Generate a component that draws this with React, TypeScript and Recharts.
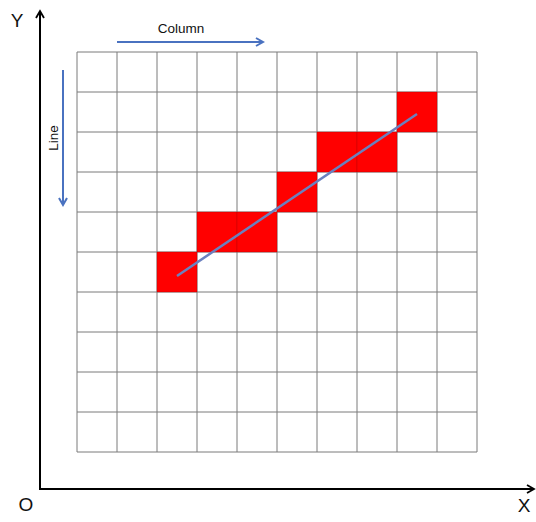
import React from "react";
import { ComposedChart, CartesianGrid, XAxis, YAxis, ReferenceArea, Line } from "recharts";

// grid cells (column index, row index counted from the bottom)
const gridTicks = [0, 1, 2, 3, 4, 5, 6, 7, 8, 9, 10];
const cellColumns = [2, 3, 4, 5, 6, 7, 8];
const cellRows = [4, 5, 5, 6, 7, 7, 8];
// fitted line endpoints
const lineX = [2.5, 8.5];
const lineY = [4.4, 8.45];

const lineData = lineX.map((x, i) => ({ x, y: lineY[i] }));

const W = 536;
const H = 522;

export default function App() {
  return (
    <div style={{ position: "absolute", left: 0, top: 0, width: W, height: H, background: "#fff" }}>
      <ComposedChart
        width={W}
        height={H}
        data={lineData}
        margin={{ left: 77, right: 59, top: 52, bottom: 70 }}
      >
        <XAxis type="number" dataKey="x" domain={[0, 10]} ticks={gridTicks} hide />
        <YAxis type="number" dataKey="y" domain={[0, 10]} ticks={gridTicks} hide />
        <CartesianGrid stroke="#7a7a7a" strokeWidth={1} horizontalValues={gridTicks} verticalValues={gridTicks} />
        {cellColumns.map((c, i) => (
          <ReferenceArea
            key={i}
            x1={c}
            x2={c + 1}
            y1={cellRows[i]}
            y2={cellRows[i] + 1}
            fill="#ff0000"
            fillOpacity={1}
            stroke="#b00000"
            strokeOpacity={0.35}
            strokeWidth={1}
            ifOverflow="visible"
          />
        ))}
        <Line
          type="linear"
          dataKey="y"
          stroke="#6a80bf"
          strokeWidth={2.5}
          dot={false}
          isAnimationActive={false}
        />
      </ComposedChart>
      <svg
        width={W}
        height={H}
        style={{ position: "absolute", left: 0, top: 0, pointerEvents: "none" }}
        fontFamily="Liberation Sans, Arial, sans-serif"
      >
        <defs>
          <marker id="blk" markerWidth="10" markerHeight="10" refX="7" refY="5" orient="auto" markerUnits="userSpaceOnUse">
            <path d="M1,1 L8,5 L1,9" fill="none" stroke="#000" strokeWidth="1.8" />
          </marker>
          <marker id="blu" markerWidth="10" markerHeight="10" refX="7" refY="5" orient="auto" markerUnits="userSpaceOnUse">
            <path d="M1,1 L8,5 L1,9" fill="none" stroke="#4a72c0" strokeWidth="2" />
          </marker>
        </defs>
        <line x1={40} y1={489} x2={40} y2={12} stroke="#000" strokeWidth={2} markerEnd="url(#blk)" />
        <line x1={39} y1={489} x2={533} y2={489} stroke="#000" strokeWidth={2} markerEnd="url(#blk)" />
        <text x={17} y={27} fontSize={19} textAnchor="middle" fill="#111">Y</text>
        <text x={26} y={511} fontSize={19} textAnchor="middle" fill="#111">O</text>
        <text x={524} y={512} fontSize={19} textAnchor="middle" fill="#111">X</text>
        <line x1={117} y1={42} x2={262} y2={42} stroke="#4a72c0" strokeWidth={2} markerEnd="url(#blu)" />
        <text x={181} y={33} fontSize={13.5} textAnchor="middle" fill="#111">Column</text>
        <line x1={63} y1={70} x2={63} y2={204} stroke="#4a72c0" strokeWidth={2} markerEnd="url(#blu)" />
        <text x={0} y={0} fontSize={13.5} textAnchor="middle" fill="#111" transform="translate(58,138) rotate(-90)">Line</text>
      </svg>
    </div>
  );
}
